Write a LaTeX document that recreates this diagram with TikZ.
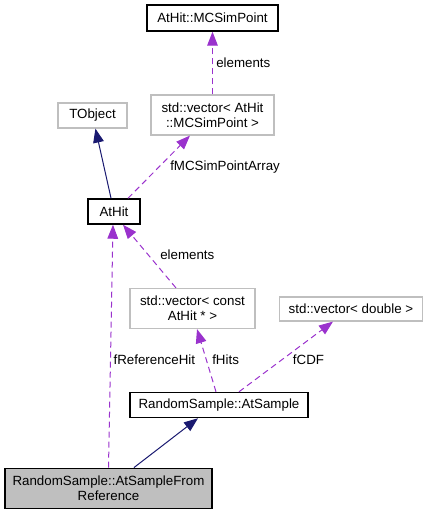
\documentclass[tikz,border=0pt]{standalone}
\usepackage{fontspec}
\setmainfont{Liberation Sans}
\usetikzlibrary{arrows.meta}
\definecolor{edgenavy}{HTML}{191970}
\definecolor{edgepurple}{HTML}{9A32CD}
\definecolor{boxgray}{HTML}{BFBFBF}
\begin{document}
\begin{tikzpicture}[x=0.75pt, y=-0.75pt,
        every node/.style={font=\fontsize{10}{11}\selectfont, align=center, inner sep=0pt},
        cls/.style={draw=black, line width=1.1pt},
        ext/.style={draw=boxgray, line width=0.9pt},
        inherit/.style={edgenavy, line width=0.75pt, -{Triangle[length=10.5pt, width=8pt]}},
        usage/.style={edgepurple, line width=0.75pt, dash pattern=on 4.5pt off 3pt, -{Triangle[length=10.5pt, width=8pt]}},
        lbl/.style={anchor=west}]
        \useasboundingbox (0,0) rectangle (428,515);
        \node[cls, minimum width=98.25pt, minimum height=19.5pt] (mcsim) at (212.5,18) {AtHit::MCSimPoint};
        \node[ext, minimum width=51.75pt, minimum height=18.75pt] (tobject) at (92.5,115.5) {TObject};
        \node[ext, minimum width=92.25pt, minimum height=30pt] (vecmc) at (212.5,115) {std::vector< AtHit\\::MCSimPoint >};
        \node[cls, minimum width=39pt, minimum height=18.75pt] (athit) at (114,211.5) {AtHit};
        \node[ext, minimum width=93.75pt, minimum height=30pt] (vecconst) at (192.5,308.5) {std::vector< const\\AtHit * >};
        \node[ext, minimum width=107.25pt, minimum height=18pt] (vecdbl) at (351,309) {std::vector< double >};
        \node[cls, minimum width=133.5pt, minimum height=18.75pt] (atsample) at (219,405) {RandomSample::AtSample};
        \node[cls, fill=boxgray, minimum width=155.25pt, minimum height=30pt] (ref) at (108.5,488.3) {RandomSample::AtSampleFrom\\Reference};
        \draw[usage] (vecmc) -- (mcsim);
        \node[lbl] (elemmc) at (216,62.3) {elements};
        \draw[inherit] (athit) -- (tobject);
        \draw[usage] ([xshift=10.5pt]athit.north) -- ([xshift=-16.9pt]vecmc.south);
        \node[lbl] (mcarray) at (170,166.7) {fMCSimPointArray};
        \draw[usage] ([xshift=-12.4pt]vecconst.north) -- ([xshift=6.75pt]athit.south);
        \node[lbl] (elemhit) at (160,255) {elements};
        \draw[usage] (ref.north) -- ([xshift=-0.75pt]athit.south);
        \node[lbl] (refhit) at (113.3,359.3) {fReferenceHit};
        \draw[usage] ([xshift=-2.25pt]atsample.north) -- ([xshift=3.4pt]vecconst.south);
        \node[lbl] (hits) at (212,359.3) {fHits};
        \draw[usage] ([xshift=15pt]atsample.north) -- ([xshift=-13.5pt]vecdbl.south);
        \node[lbl] (cdf) at (292.7,359.3) {fCDF};
        \draw[inherit] ([xshift=19.1pt]ref.north) -- ([xshift=-15.75pt]atsample.south);
    \end{tikzpicture}
\end{document}
